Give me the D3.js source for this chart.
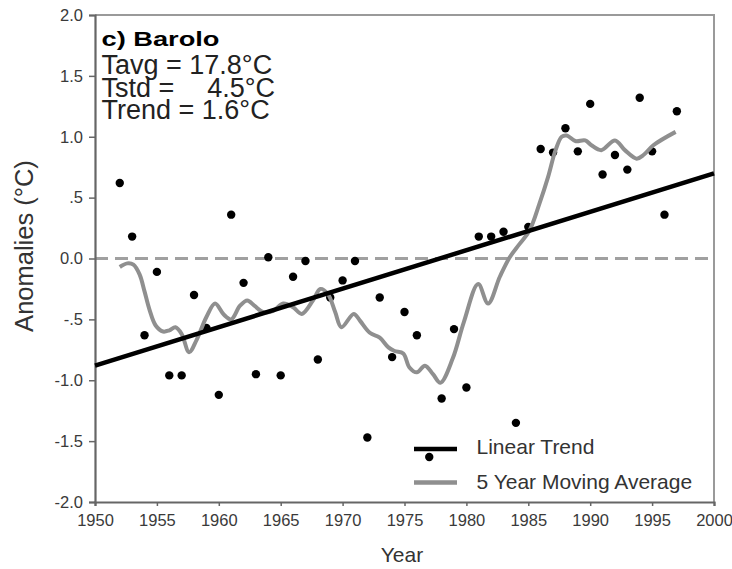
<!DOCTYPE html>
<html>
<head>
<meta charset="utf-8">
<script src="https://cdn.jsdelivr.net/npm/d3@7"></script>
<style>
  body { margin: 0; background: #fff; }
  svg text { font-family: "Liberation Sans", Arial, sans-serif; }
</style>
</head>
<body>
<div id="chart"></div>
<script>
const width = 732;
const height = 569;

// yearly anomalies (°C)
const years = [1952, 1953, 1954, 1955, 1956, 1957, 1958, 1959, 1960, 1961,
               1962, 1963, 1964, 1965, 1966, 1967, 1968, 1969, 1970, 1971,
               1972, 1973, 1974, 1975, 1976, 1977, 1978, 1979, 1980, 1981,
               1982, 1983, 1984, 1985, 1986, 1987, 1988, 1989, 1990, 1991,
               1992, 1993, 1994, 1995, 1996, 1997];
const anomalies = [0.62, 0.18, -0.63, -0.11, -0.96, -0.96, -0.30, -0.57, -1.12, 0.36,
                   -0.20, -0.95, 0.01, -0.96, -0.15, -0.02, -0.83, -0.32, -0.18, -0.02,
                   -1.47, -0.32, -0.81, -0.44, -0.63, -1.63, -1.15, -0.58, -1.06, 0.18,
                   0.18, 0.22, -1.35, 0.26, 0.90, 0.87, 1.07, 0.88, 1.27, 0.69,
                   0.85, 0.73, 1.32, 0.88, 0.36, 1.21];

// smoothed 5 year moving average, sampled along the drawn curve
const maYears = [1952.0, 1952.6, 1953.1, 1953.6, 1954.0, 1954.4, 1954.9, 1955.5, 1956.0, 1956.5,
                 1957.0, 1957.6, 1958.2, 1959.0, 1959.7, 1960.4, 1961.0, 1961.7, 1962.3, 1962.9,
                 1963.6, 1964.4, 1965.2, 1966.0, 1966.7, 1967.6, 1968.2, 1968.8, 1969.4, 1969.9,
                 1970.9, 1971.4, 1972.2, 1973.0, 1973.7, 1974.2, 1974.9, 1975.4, 1976.0, 1976.65,
                 1977.3, 1977.9, 1978.9, 1979.8, 1980.95, 1981.75, 1982.7, 1983.5, 1984.3, 1985.1,
                 1985.9, 1986.6, 1987.2, 1987.7, 1988.1, 1988.8, 1989.6, 1990.1, 1990.9, 1992.0,
                 1992.8, 1993.75, 1994.3, 1995.1, 1996.9];
const maValues = [-0.07, -0.04, -0.05, -0.13, -0.27, -0.42, -0.55, -0.60, -0.59, -0.565,
                  -0.62, -0.77, -0.67, -0.48, -0.37, -0.46, -0.50, -0.39, -0.345, -0.39,
                  -0.44, -0.43, -0.37, -0.40, -0.455, -0.345, -0.25, -0.29, -0.44, -0.565,
                  -0.455, -0.51, -0.61, -0.65, -0.73, -0.76, -0.78, -0.895, -0.935, -0.88,
                  -0.95, -1.02, -0.82, -0.52, -0.21, -0.37, -0.15, 0.01, 0.12, 0.23,
                  0.45, 0.67, 0.89, 1.00, 1.01, 0.965, 0.97, 0.93, 0.89, 0.97,
                  0.89, 0.82, 0.85, 0.93, 1.04];

// linear trend end points
const trendYears = [1950, 2000];
const trendValues = [-0.88, 0.70];

const xTicks = [1950, 1955, 1960, 1965, 1970, 1975, 1980, 1985, 1990, 1995, 2000];
const yTicks = [2, 1.5, 1, 0.5, 0, -0.5, -1, -1.5, -2];
const yTickLabels = ["2.0", "1.5", "1.0", ".5", "0.0", "-.5", "-1.0", "-1.5", "-2.0"];

const margin = {left: 95, top: 15, right: 18, bottom: 67};

const svg = d3.select("#chart").append("svg")
    .attr("width", width)
    .attr("height", height);

const x = d3.scaleLinear()
    .domain([1950, 2000])
    .range([margin.left, width - margin.right]);

const y = d3.scaleLinear()
    .domain([-2, 2])
    .range([height - margin.bottom, margin.top]);

// frame: top and right borders in light grey
svg.append("path")
    .attr("d", `M${x(1950)},${y(2)}H${x(2000)}V${y(-2)}`)
    .attr("fill", "none")
    .attr("stroke", "#9a9a9a")
    .attr("stroke-width", 2);

// zero reference line
svg.append("line")
    .attr("x1", x(1950)).attr("x2", x(2000))
    .attr("y1", y(0)).attr("y2", y(0))
    .attr("stroke", "#a0a0a0")
    .attr("stroke-width", 3)
    .attr("stroke-dasharray", "13,7");

// axes
const xAxis = svg.append("g")
    .attr("transform", `translate(0,${y(-2)})`)
    .call(d3.axisBottom(x).tickValues(xTicks).tickFormat(d3.format("d")).tickSize(4).tickPadding(8));

const yAxis = svg.append("g")
    .attr("transform", `translate(${x(1950)},0)`)
    .call(d3.axisLeft(y).tickValues(yTicks).tickFormat((d, i) => yTickLabels[i]).tickSize(6).tickPadding(6));

[xAxis, yAxis].forEach(g => {
    g.select(".domain").attr("stroke", "#666").attr("stroke-width", 2.2);
    g.selectAll(".tick line").attr("stroke", "#666").attr("stroke-width", 1.5);
    g.selectAll(".tick text")
        .attr("fill", "#3a3a3a")
        .style("font-size", "16.5px")
        .style("font-family", "'Liberation Sans', Arial, sans-serif");
});

// data points
svg.append("g").selectAll("circle")
    .data(years.map((yr, i) => ({year: yr, value: anomalies[i]})))
    .join("circle")
    .attr("cx", d => x(d.year))
    .attr("cy", d => y(d.value))
    .attr("r", 4.2)
    .attr("fill", "#000");

// moving average
const maLine = d3.line()
    .x(d => x(d[0]))
    .y(d => y(d[1]))
    .curve(d3.curveCatmullRom.alpha(0.5));

svg.append("path")
    .datum(maYears.map((yr, i) => [yr, maValues[i]]))
    .attr("d", maLine)
    .attr("fill", "none")
    .attr("stroke", "#8f8f8f")
    .attr("stroke-width", 4)
    .attr("stroke-linejoin", "round");

// linear trend
svg.append("path")
    .datum(trendYears.map((yr, i) => [yr, trendValues[i]]))
    .attr("d", d3.line().x(d => x(d[0])).y(d => y(d[1])))
    .attr("stroke", "#000")
    .attr("stroke-width", 4.5);

// annotation block
svg.append("text")
    .attr("x", 101.5).attr("y", 45.5)
    .attr("font-size", 21).attr("font-weight", "bold")
    .attr("textLength", 118).attr("lengthAdjust", "spacingAndGlyphs")
    .text("c) Barolo");

const info = svg.append("g").attr("font-size", 27).attr("fill", "#222");
info.append("text").attr("x", 101.5).attr("y", 74).text("Tavg = 17.8°C");
info.append("text").attr("x", 101.5).attr("y", 96.5).text("Tstd =");
info.append("text").attr("x", 275).attr("y", 96.5).attr("text-anchor", "end").text("4.5°C");
info.append("text").attr("x", 101.5).attr("y", 118.5).text("Trend = 1.6°C");

// axis titles
svg.append("text")
    .attr("transform", `translate(33,${246}) rotate(-90)`)
    .attr("text-anchor", "middle")
    .attr("font-size", 25.5)
    .attr("fill", "#333")
    .text("Anomalies (°C)");

svg.append("text")
    .attr("x", 402).attr("y", 561.5)
    .attr("text-anchor", "middle")
    .attr("font-size", 21)
    .attr("fill", "#333")
    .text("Year");

// legend
const legend = svg.append("g");
legend.append("line")
    .attr("x1", 414).attr("x2", 457).attr("y1", 449).attr("y2", 449)
    .attr("stroke", "#000").attr("stroke-width", 4.5);
legend.append("text")
    .attr("x", 476.5).attr("y", 453.5)
    .attr("font-size", 21).attr("fill", "#333")
    .text("Linear Trend");
legend.append("line")
    .attr("x1", 414).attr("x2", 457).attr("y1", 482.5).attr("y2", 482.5)
    .attr("stroke", "#8f8f8f").attr("stroke-width", 4.5);
legend.append("text")
    .attr("x", 476.5).attr("y", 488.5)
    .attr("font-size", 21).attr("fill", "#333")
    .text("5 Year Moving Average");
</script>
</body>
</html>
